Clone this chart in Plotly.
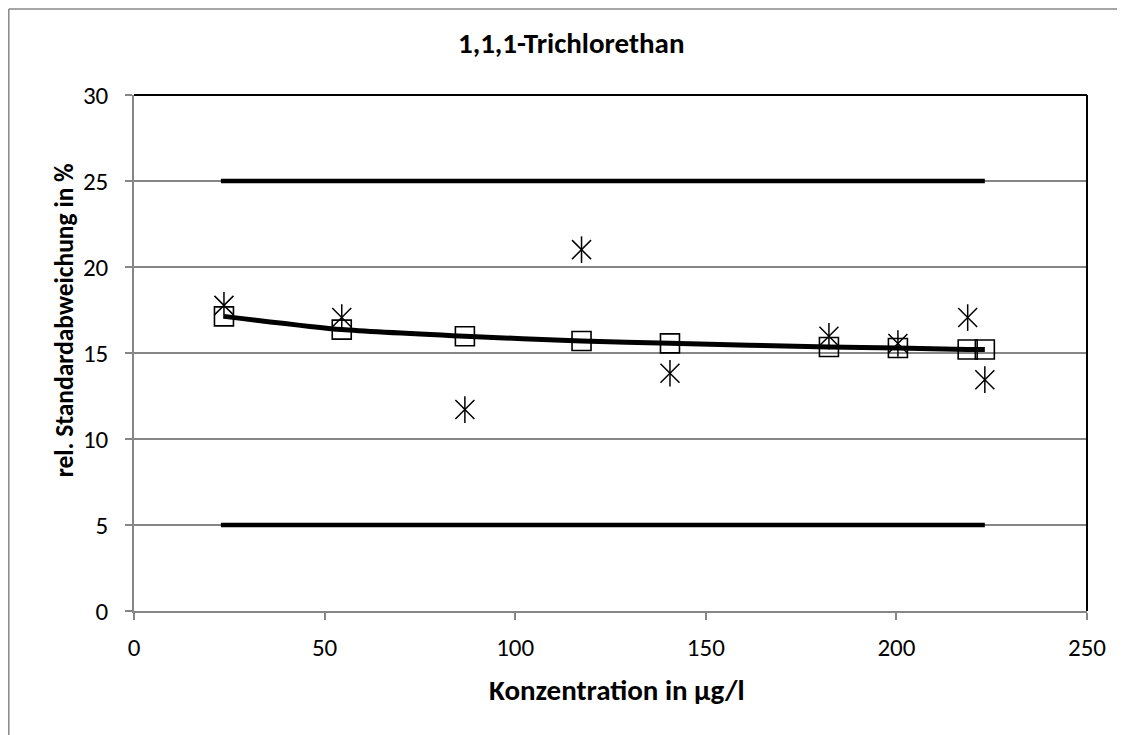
import plotly.graph_objects as go

# Data
conc = [23.6, 54.5, 86.8, 117.4, 140.6, 182.3, 200.4, 218.7, 223.2]
fit_rsd = [17.13, 16.36, 15.97, 15.70, 15.56, 15.35, 15.29, 15.20, 15.20]
meas_rsd = [17.77, 17.06, 11.71, 21.01, 13.82, 15.97, 15.55, 17.06, 13.45]
upper_limit = 25
lower_limit = 5

title_text = "1,1,1-Trichlorethan"
x_title = "Konzentration in µg/l"
y_title = "rel. Standardabweichung in %"

FONT = "Carlito, Lato, sans-serif"
OFF = 8  # page body margin
W, H = 1125 - OFF, 735 - OFF
L, R, T, B = 134 - OFF, 1087.3 - OFF, 94.7 - OFF, 610.7 - OFF
pw, ph = R - L, B - T

def px_x(p):
    return (p - OFF - L) / pw

def px_y(p):
    return (B - (p - OFF)) / ph

fig = go.Figure()

lim_x = [conc[0] - 0.8, conc[-1]]
fig.add_trace(go.Scatter(x=lim_x, y=[upper_limit] * 2, mode="lines",
                         line=dict(color="black", width=4.5), showlegend=False))
fig.add_trace(go.Scatter(x=lim_x, y=[lower_limit] * 2, mode="lines",
                         line=dict(color="black", width=4.5), showlegend=False))

# measured values: asterisk (X + vertical line)
fig.add_trace(go.Scatter(x=conc, y=meas_rsd, mode="markers",
                         marker=dict(symbol="x-thin-open", size=19, color="black",
                                     line=dict(color="black", width=1.5)),
                         showlegend=False))
fig.add_trace(go.Scatter(x=conc, y=meas_rsd, mode="markers",
                         marker=dict(symbol="line-ns-open", size=19, color="black",
                                     line=dict(color="black", width=1.5)),
                         showlegend=False))

# fitted values
fig.add_trace(go.Scatter(x=conc, y=fit_rsd, mode="markers",
                         marker=dict(symbol="square-open", size=19, color="black",
                                     line=dict(color="black", width=1.6)),
                         showlegend=False))
fig.add_trace(go.Scatter(x=conc, y=fit_rsd, mode="lines",
                         line=dict(color="black", width=5, shape="spline", smoothing=0.6),
                         showlegend=False))

fig.update_layout(
    width=W, height=H,
    margin=dict(l=L, r=W - R, t=T, b=H - B, pad=0),
    paper_bgcolor="white", plot_bgcolor="white",
    font=dict(family=FONT, size=25, color="black"),
    showlegend=False,
)

fig.update_xaxes(range=[0, 250], tickvals=[0, 50, 100, 150, 200, 250],
                 showgrid=False, zeroline=False,
                 showline=True, linecolor="#868686", linewidth=1.5,
                 ticks="outside", ticklen=7, tickcolor="#868686", tickwidth=1.5,
                 ticklabelstandoff=6,
                 tickfont=dict(family=FONT, size=25))
fig.update_yaxes(range=[0, 30], tickvals=[0, 5, 10, 15, 20, 25, 30],
                 showgrid=True, gridcolor="#868686", gridwidth=1.5,
                 zeroline=False,
                 showline=True, linecolor="#868686", linewidth=1.5,
                 ticks="outside", ticklen=7, tickcolor="#868686", tickwidth=1.5,
                 ticklabelstandoff=12,
                 tickfont=dict(family=FONT, size=25))

shapes = [
    # plot area border top and right (black)
    dict(type="line", xref="paper", yref="paper", x0=0, x1=1, y0=1, y1=1,
         line=dict(color="black", width=2)),
    dict(type="line", xref="paper", yref="paper", x0=1, x1=1, y0=0, y1=1,
         line=dict(color="black", width=2)),
    # outer chart frame (top and left, gray)
    dict(type="line", xref="paper", yref="paper", x0=px_x(OFF + 0.75), x1=px_x(1130),
         y0=px_y(OFF + 0.75), y1=px_y(OFF + 0.75), line=dict(color="#888888", width=1.5)),
    dict(type="line", xref="paper", yref="paper", x0=px_x(OFF + 0.75), x1=px_x(OFF + 0.75),
         y0=px_y(OFF + 0.75), y1=px_y(740), line=dict(color="#888888", width=1.5)),
]
fig.update_layout(shapes=shapes)

annotations = [
    dict(text="<b>" + title_text + "</b>", xref="paper", yref="paper",
         x=px_x(571), y=px_y(43), showarrow=False, xanchor="center", yanchor="middle",
         font=dict(family=FONT, size=29)),
    dict(text="<b>" + x_title + "</b>", xref="paper", yref="paper",
         x=px_x(617), y=px_y(690), showarrow=False, xanchor="center", yanchor="middle",
         font=dict(family=FONT, size=29)),
    dict(text="<b>" + y_title + "</b>", xref="paper", yref="paper",
         x=px_x(64), y=px_y(320), showarrow=False, xanchor="center", yanchor="middle",
         textangle=-90, font=dict(family=FONT, size=25.5)),
]
fig.update_layout(annotations=annotations)

fig.write_html("out.html")
